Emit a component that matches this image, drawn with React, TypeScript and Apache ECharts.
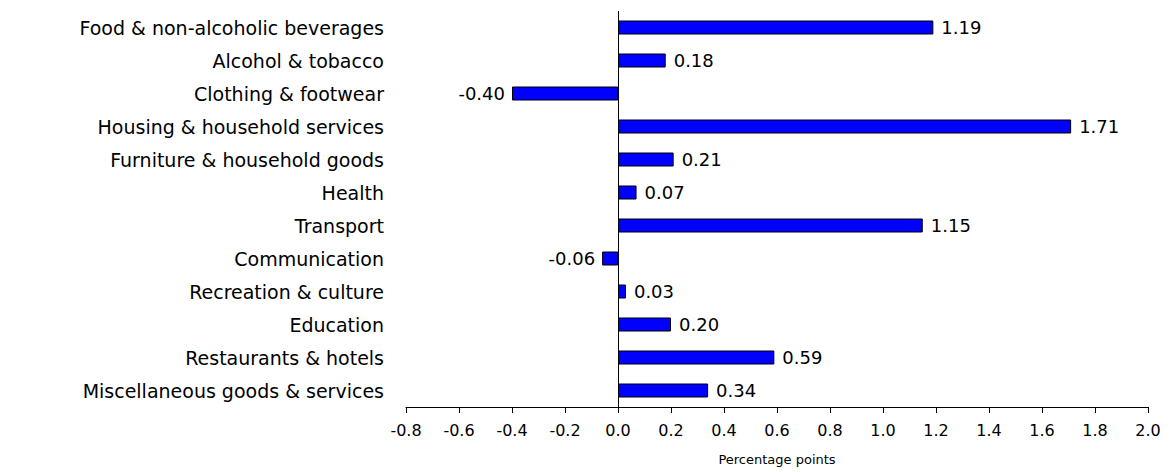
import React, { useEffect, useRef } from "react";
import * as echarts from "echarts";

const categories = [
  "Food & non-alcoholic beverages",
  "Alcohol & tobacco",
  "Clothing & footwear",
  "Housing & household services",
  "Furniture & household goods",
  "Health",
  "Transport",
  "Communication",
  "Recreation & culture",
  "Education",
  "Restaurants & hotels",
  "Miscellaneous goods & services",
];

const values = [1.19, 0.18, -0.4, 1.71, 0.21, 0.07, 1.15, -0.06, 0.03, 0.2, 0.59, 0.34];

const axisMin = -0.8;
const axisMax = 2.0;
const axisStep = 0.2;
const axisName = "Percentage points";

const FONT = "DejaVu Sans";

export default function App() {
  const ref = useRef<HTMLDivElement>(null);

  useEffect(() => {
    if (!ref.current) return;
    const chart = echarts.init(ref.current, undefined, { renderer: "svg" });
    const data = values.map((v) => ({
      value: v,
      label: {
        position: v < 0 ? "left" : "right",
        distance: v < 0 ? 7 : 8,
      },
    }));
    chart.setOption({
      animation: false,
      backgroundColor: "#ffffff",
      grid: { left: 406, right: 22, top: 11, bottom: 65, containLabel: false },
      xAxis: {
        type: "value",
        min: axisMin,
        max: axisMax,
        interval: axisStep,
        name: axisName,
        nameLocation: "middle",
        nameGap: 46,
        nameTextStyle: { fontFamily: FONT, fontSize: 13, color: "#000" },
        axisLine: { show: true, lineStyle: { color: "#000", width: 1 } },
        axisTick: { show: true, inside: false, length: 6, lineStyle: { color: "#000" } },
        axisLabel: {
          fontFamily: FONT,
          fontSize: 16,
          color: "#000",
          margin: 15,
          formatter: (v: number) => v.toFixed(1),
        },
        splitLine: { show: false },
      },
      yAxis: {
        type: "category",
        data: categories,
        inverse: true,
        axisLine: { show: false, onZero: false },
        axisTick: { show: false },
        axisLabel: {
          fontFamily: FONT,
          fontSize: 19,
          color: "#000",
          margin: 22,
        },
        splitLine: { show: false },
      },
      series: [
        {
          type: "bar",
          data,
          barWidth: 14,
          itemStyle: { color: "#0000ff", borderColor: "#000", borderWidth: 1 },
          label: {
            show: true,
            fontFamily: FONT,
            fontSize: 18,
            color: "#000",
            formatter: (p: any) => Number(p.value).toFixed(2),
          },
          markLine: {
            silent: true,
            symbol: "none",
            label: { show: false },
            lineStyle: { color: "#000", width: 1, type: "solid" },
            data: [{ xAxis: 0 }],
          },
        },
      ],
    });
    return () => chart.dispose();
  }, []);

  return (
    <div
      ref={ref}
      style={{ position: "fixed", left: 0, top: 0, width: 1170, height: 472 }}
    />
  );
}
